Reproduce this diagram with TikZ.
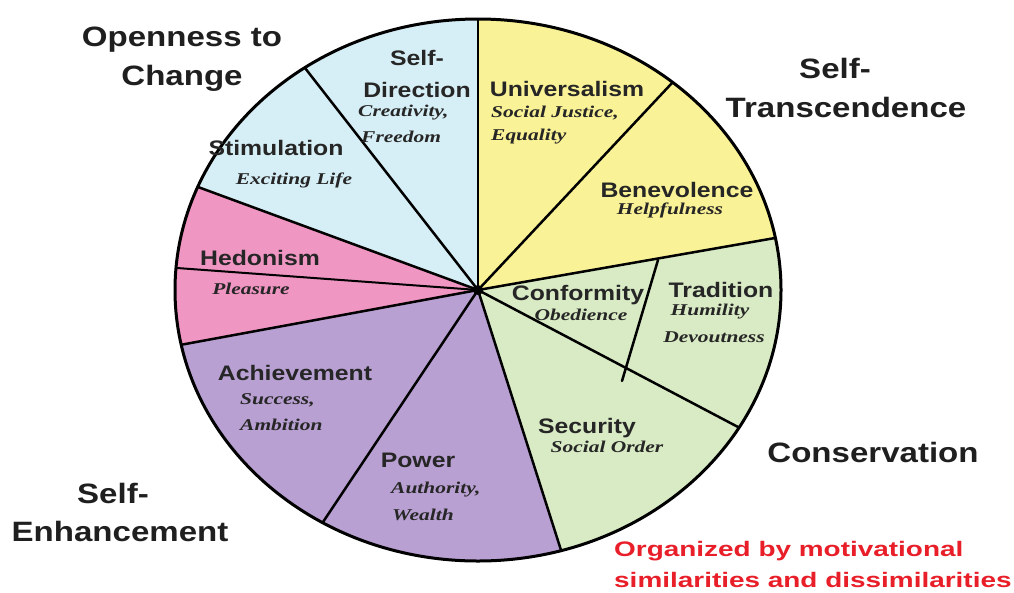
\documentclass[tikz,border=0pt]{standalone}
\usepackage{fontspec}
\setmainfont{Liberation Sans}
\newfontfamily\labfont[FakeStretch=1.18]{Liberation Sans}
\newfontfamily\subfont[FakeStretch=1.3]{Liberation Serif}
\newfontfamily\redfont[FakeStretch=1.33]{Liberation Sans}
\usetikzlibrary{calc}
\definecolor{openc}{RGB}{214,238,245}
\definecolor{transc}{RGB}{250,242,150}
\definecolor{consc}{RGB}{217,235,196}
\definecolor{enhc}{RGB}{185,160,210}
\definecolor{hedc}{RGB}{240,150,195}
\definecolor{notec}{RGB}{232,30,40}
\begin{document}
\begin{tikzpicture}[x=1pt,y=-1pt,
  big/.style={font=\labfont\fontsize{28}{30}\selectfont\bfseries, inner sep=0pt, text=black!88},
  val/.style={font=\labfont\fontsize{21}{23}\selectfont\bfseries, inner sep=0pt, text=black!85},
  sub/.style={font=\subfont\fontsize{16.5}{18}\selectfont\bfseries\itshape, inner sep=0pt, text=black!85},
  note/.style={font=\redfont\fontsize{21}{23}\selectfont\bfseries, text=notec, inner sep=0pt, anchor=west},
  div/.style={line width=2.5pt, line cap=round},
  rim/.style={line width=3pt}]
\useasboundingbox (0,0) rectangle (1014,592);
\coordinate (C) at (478,290);
\coordinate (B1) at (478,17);
\coordinate (B2) at (672,83);
\coordinate (B3) at (775,238);
\coordinate (B4) at (738,427);
\coordinate (B5) at (560,547);
\coordinate (B6) at (323,522);
\coordinate (B7) at (180,345);
\coordinate (B8) at (198,187);
\coordinate (B9) at (305,68);
\coordinate (H) at (177,268);
\coordinate (T1) at (658,260);
\coordinate (T2) at (622,381);
\foreach \i in {1,...,9} {\coordinate (F\i) at ($(C)!3!(B\i)$);}
\coordinate (FH) at ($(C)!3!(H)$);
\begin{scope}
  \clip (C) ellipse [x radius=303, y radius=271];
  \fill[openc] (C) -- (F8) -- (F9) -- (F1) -- cycle;
  \fill[transc] (C) -- (F1) -- (F2) -- (F3) -- cycle;
  \fill[consc] (C) -- (F3) -- (F4) -- (F5) -- cycle;
  \fill[enhc] (C) -- (F5) -- (F6) -- (F7) -- cycle;
  \fill[hedc] (C) -- (F7) -- (F8) -- cycle;
  \foreach \i in {1,...,9} {\draw[div] (C) -- (F\i);}
  \draw[line width=2pt] (C) -- (FH);
\end{scope}
\draw[rim] (C) ellipse [x radius=303, y radius=271];
\draw[div] (T1) -- (T2);
\fill (C) circle [radius=5];
% group labels
\node[big] (op1) at (182,40) {Openness to};
\node[big] (op2) at (182,78) {Change};
\node[big] (st1) at (835,68) {Self-};
\node[big] (st2) at (846,107) {Transcendence};
\node[big] (co) at (873,452) {Conservation};
\node[big] (se1) at (113,493) {Self-};
\node[big] (se2) at (120,531) {Enhancement};
% values
\node[val] (sd1) at (417,58) {Self-};
\node[val] (sd2) at (417,90) {Direction};
\node[sub,anchor=west] (sd3) at (358,113) {Creativity,};
\node[sub,anchor=west] (sd4) at (361,137) {Freedom};
\node[val] (stim) at (276,148) {Stimulation};
\node[sub] (stim2) at (294,180) {Exciting Life};
\node[val] (hed) at (260,258) {Hedonism};
\node[sub] (hed2) at (251,289) {Pleasure};
\node[val] (ach) at (295,373) {Achievement};
\node[sub,anchor=west] (ach2) at (240,400) {Success,};
\node[sub,anchor=west] (ach3) at (240,425) {Ambition};
\node[val] (pow) at (418,460) {Power};
\node[sub,anchor=west] (pow2) at (391,490) {Authority,};
\node[sub,anchor=west] (pow3) at (392,515) {Wealth};
\node[val] (uni) at (567,89) {Universalism};
\node[sub,anchor=west] (uni2) at (491,113) {Social Justice,};
\node[sub,anchor=west] (uni3) at (491,137) {Equality};
\node[val] (ben) at (677,190) {Benevolence};
\node[sub] (ben2) at (670,210) {Helpfulness};
\node[val] (conf) at (578,295) {Conformity};
\node[sub] (conf2) at (581,315) {Obedience};
\node[val] (trad) at (721,290) {Tradition};
\node[sub] (trad2) at (710,312) {Humility};
\node[sub] (trad3) at (714,337) {Devoutness};
\node[val] (sec) at (587,428) {Security};
\node[sub] (sec2) at (607,447) {Social Order};
% note
\node[note] (n1) at (614,551) {Organized by motivational};
\node[note] (n2) at (614,580) {similarities and dissimilarities};
\end{tikzpicture}
\end{document}
